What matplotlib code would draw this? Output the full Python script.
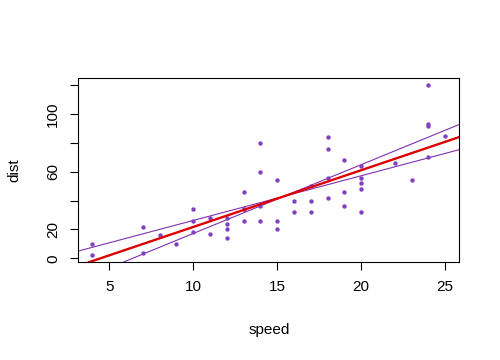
import numpy as np
import matplotlib
matplotlib.use("Agg")
import matplotlib.pyplot as plt

# R "cars" data
speed = [4, 4, 7, 7, 8, 9, 10, 10, 10, 11, 11, 12, 12, 12, 12, 13, 13, 13, 13, 14,
         14, 14, 14, 15, 15, 15, 16, 16, 17, 17, 17, 18, 18, 18, 18, 19, 19, 19, 20, 20,
         20, 20, 20, 22, 23, 24, 24, 24, 24, 25]
dist = [2, 10, 4, 22, 16, 10, 18, 26, 34, 17, 28, 14, 20, 24, 28, 26, 34, 34, 46, 26,
        36, 60, 80, 20, 26, 54, 32, 40, 32, 40, 50, 42, 56, 76, 84, 36, 46, 68, 32, 48,
        52, 56, 64, 66, 54, 70, 92, 93, 120, 85]
x_ticks = [5, 10, 15, 20, 25]
y_ticks = [0, 20, 40, 60, 80, 100, 120]
y_ticklabels = ["0", "20", "", "60", "", "100", ""]

plt.rcParams['font.family'] = ['Liberation Sans', 'DejaVu Sans']

x = np.array(speed, dtype=float)
y = np.array(dist, dtype=float)
n = len(x)

# least squares fit and 95% interval of the slope, lines pass through the mean point
slope, intercept = np.polyfit(x, y, 1)
resid = y - (intercept + slope * x)
s = np.sqrt(np.sum(resid ** 2) / (n - 2))
se = s / np.sqrt(np.sum((x - x.mean()) ** 2))
t = 2.0106
slopes_ci = [slope - t * se, slope + t * se]

fig = plt.figure(figsize=(5, 3.6), dpi=100)
ax = fig.add_axes([0.1566, 0.2714, 0.762, 0.5111])

xr = (x.max() - x.min()) * 0.04
yr = (y.max() - y.min()) * 0.04
ax.set_xlim(x.min() - xr, x.max() + xr)
ax.set_ylim(y.min() - yr, y.max() + yr)

ax.scatter(x, y, s=10, color='#8040C0', zorder=3, linewidths=0)

for b in slopes_ci:
    ax.axline((x.mean(), y.mean()), slope=b, color='#8030B0', lw=0.8, zorder=2)
ax.axline((0, intercept), slope=slope, color='#DD0000', lw=1.7, zorder=4)

ax.set_xticks(x_ticks)
ax.set_yticks(y_ticks)
ax.set_yticklabels(y_ticklabels, rotation=90, va='center')
ax.tick_params(direction='out', length=6, width=0.8, labelsize=11, pad=7)
ax.tick_params(axis='y', pad=7)
for sp in ax.spines.values():
    sp.set_linewidth(0.8)

ax.set_xlabel("speed", fontsize=11, va='center')
ax.set_ylabel("dist", fontsize=11, va='center')
ax.xaxis.set_label_coords(0.5, -0.368)
ax.yaxis.set_label_coords(-0.169, 0.5)

fig.savefig("out.png", dpi=100)
